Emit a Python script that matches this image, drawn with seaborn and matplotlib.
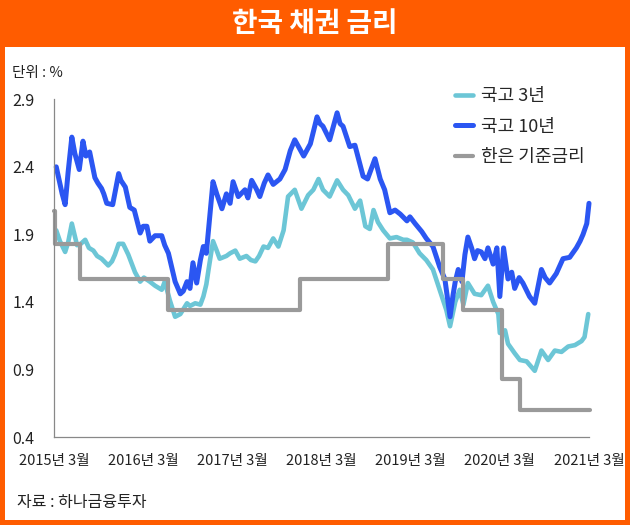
import numpy as np
import pandas as pd
import matplotlib
matplotlib.use("Agg")
import matplotlib.pyplot as plt
from matplotlib.patches import Rectangle
import seaborn as sns

# x = months since 2015년 3월
months_10y = [0.3, 1.1, 1.5, 1.9, 2.4, 2.8, 3.4, 3.9, 4.3, 4.8, 5.5, 5.9, 6.4, 6.7, 7.1, 7.9,
              8.7, 9.0, 9.6, 10.2, 10.8, 11.6, 12.0, 12.5, 12.9, 13.6, 14.5, 14.9, 15.4, 16.3,
              17.0, 17.4, 17.9, 18.3, 18.7, 19.2, 19.7, 20.1, 20.5, 21.4, 21.9, 22.6, 23.2,
              23.7, 24.1, 24.8, 25.7, 26.1, 26.6, 27.2, 27.7, 28.3, 28.8, 29.5, 30.4, 31.1,
              31.8, 32.4, 33.0, 33.6, 34.5, 35.4, 35.8, 36.2, 37.1, 38.1, 38.5, 38.9, 39.8,
              40.5, 41.6, 42.2, 42.8, 43.2, 43.9, 44.5, 45.2, 45.9, 46.6, 47.5, 47.9, 48.6,
              49.5, 50.1, 51.0, 51.9, 52.6, 53.3, 53.7, 54.0, 54.4, 54.9, 55.3, 55.7, 56.2,
              56.6, 57.0, 57.5, 58.0, 58.4, 59.1, 59.6, 60.0, 60.5, 61.1, 61.6, 62.0, 62.6,
              63.1, 64.0, 64.7, 65.6, 66.1, 66.7, 67.6, 68.5, 69.4, 70.3, 70.8, 71.2, 71.7, 72.0]
rate_10y = [2.40, 2.20, 2.12, 2.36, 2.62, 2.50, 2.38, 2.59, 2.48, 2.51, 2.32, 2.28, 2.24, 2.20,
            2.13, 2.12, 2.35, 2.30, 2.25, 2.10, 2.08, 1.91, 1.96, 1.96, 1.85, 1.89, 1.89, 1.82,
            1.76, 1.55, 1.46, 1.48, 1.55, 1.50, 1.69, 1.54, 1.71, 1.81, 1.76, 2.29, 2.20, 2.09,
            2.20, 2.13, 2.29, 2.18, 2.23, 2.17, 2.30, 2.24, 2.18, 2.28, 2.34, 2.27, 2.31, 2.38,
            2.52, 2.60, 2.54, 2.48, 2.57, 2.77, 2.72, 2.70, 2.60, 2.80, 2.72, 2.70, 2.55, 2.56,
            2.33, 2.31, 2.40, 2.46, 2.31, 2.23, 2.06, 2.08, 2.05, 2.00, 2.03, 1.98, 1.92, 1.87,
            1.81, 1.66, 1.57, 1.29, 1.45, 1.55, 1.64, 1.55, 1.75, 1.88, 1.80, 1.72, 1.78, 1.77,
            1.72, 1.80, 1.68, 1.80, 1.44, 1.80, 1.57, 1.62, 1.50, 1.58, 1.54, 1.44, 1.39, 1.64,
            1.58, 1.54, 1.61, 1.72, 1.73, 1.80, 1.85, 1.90, 1.98, 2.13]

months_3y = [0.3, 0.8, 1.5, 1.9, 2.4, 3.1, 3.6, 4.2, 4.7, 5.3, 5.8, 6.4, 7.3, 7.8, 8.2, 8.7,
             9.3, 10.0, 10.9, 11.6, 12.1, 12.9, 13.6, 14.5, 14.9, 15.6, 16.3, 17.0, 17.9, 18.3,
             19.0, 19.7, 20.1, 20.5, 20.8, 21.4, 21.9, 22.3, 23.2, 23.7, 24.4, 25.0, 25.9,
             26.5, 27.1, 27.6, 28.2, 28.8, 29.5, 30.2, 30.9, 31.5, 32.4, 33.3, 34.2, 34.9,
             35.6, 36.2, 37.1, 38.1, 38.9, 39.6, 40.5, 41.2, 41.9, 42.5, 43.0, 43.6, 44.3,
             45.2, 46.1, 47.0, 47.5, 48.3, 49.2, 50.1, 51.0, 51.9, 52.8, 53.3, 54.0, 54.6,
             55.1, 55.7, 56.6, 57.5, 58.4, 59.1, 59.8, 60.0, 60.7, 61.1, 62.0, 62.7, 63.6,
             64.7, 65.6, 66.5, 67.4, 68.3, 69.2, 70.1, 71.0, 71.4, 71.9]
rate_3y = [1.93, 1.85, 1.77, 1.84, 1.98, 1.82, 1.83, 1.86, 1.80, 1.78, 1.74, 1.72, 1.67, 1.70,
           1.75, 1.83, 1.83, 1.75, 1.62, 1.55, 1.58, 1.55, 1.52, 1.49, 1.55, 1.41, 1.29, 1.31,
           1.39, 1.37, 1.39, 1.38, 1.44, 1.53, 1.64, 1.85, 1.78, 1.72, 1.74, 1.76, 1.78, 1.72,
           1.74, 1.71, 1.70, 1.74, 1.81, 1.80, 1.87, 1.81, 1.93, 2.18, 2.23, 2.09, 2.19, 2.23,
           2.31, 2.23, 2.18, 2.30, 2.23, 2.19, 2.09, 2.15, 1.96, 1.94, 2.08, 1.99, 1.93, 1.87,
           1.88, 1.86, 1.86, 1.84, 1.76, 1.71, 1.64, 1.49, 1.34, 1.22, 1.40, 1.49, 1.38, 1.54,
           1.46, 1.45, 1.52, 1.40, 1.31, 1.17, 1.19, 1.09, 1.02, 0.97, 0.96, 0.89, 1.04, 0.97,
           1.04, 1.03, 1.07, 1.08, 1.11, 1.14, 1.31]

months_base = [0.0, 0.2, 3.5, 15.4, 33.1, 45.0, 52.4, 55.0, 60.3, 62.7, 72.1]
rate_base = [2.07, 1.83, 1.57, 1.34, 1.57, 1.83, 1.57, 1.34, 0.83, 0.60, 0.60]

tick_months = [0, 12, 24, 36, 48, 60, 72]
tick_labels = ["2015년 3월", "2016년 3월", "2017년 3월", "2018년 3월",
               "2019년 3월", "2020년 3월", "2021년 3월"]
y_ticks = [0.4, 0.9, 1.4, 1.9, 2.4, 2.9]

sns.set_style("white")
plt.rcParams["font.family"] = ["Noto Sans CJK KR", "DejaVu Sans"]

ORANGE = "#ff5c00"
CYAN = "#6cc6d6"
BLUE = "#2b56f2"
GRAY = "#9a9a9a"

fig = plt.figure(figsize=(6.3, 5.25), dpi=100)
fig.patch.set_facecolor(ORANGE)
fig.add_artist(Rectangle((5 / 630, 5 / 525), 620 / 630, (520 - 47) / 525,
                         transform=fig.transFigure, facecolor="white", edgecolor="none", zorder=0))
fig.text(0.5, 1 - 24 / 525, "한국 채권 금리", color="white", fontsize=20,
         fontweight="bold", ha="center", va="center")

ax = fig.add_axes([54 / 630, 1 - 437 / 525, 535 / 630, (437 - 99.3) / 525])
ax.set_facecolor("none")

df3 = pd.DataFrame({"m": months_3y, "v": rate_3y})
df10 = pd.DataFrame({"m": months_10y, "v": rate_10y})
dfb = pd.DataFrame({"m": months_base, "v": rate_base})

sns.lineplot(data=df3, x="m", y="v", ax=ax, color=CYAN, lw=3.3, estimator=None,
             sort=False, label="국고 3년", clip_on=False)
sns.lineplot(data=df10, x="m", y="v", ax=ax, color=BLUE, lw=3.6, estimator=None,
             sort=False, label="국고 10년", clip_on=False)
sns.lineplot(data=dfb, x="m", y="v", ax=ax, color=GRAY, lw=3.0, estimator=None,
             sort=False, drawstyle="steps-post", label="한은 기준금리", clip_on=False)

ax.set_xlim(0, 72)
ax.set_ylim(0.4, 2.9)
ax.set_xticks(tick_months)
ax.set_xticklabels(tick_labels, fontsize=10.5, color="#222222")
ax.set_yticks(y_ticks)
ax.set_yticklabels([f"{t:.1f}" for t in y_ticks], fontsize=11.5, color="#222222")
ax.set_xlabel("")
ax.set_ylabel("")
for s in ["top", "right"]:
    ax.spines[s].set_visible(False)
for s in ["left", "bottom"]:
    ax.spines[s].set_color("#888888")
    ax.spines[s].set_linewidth(0.9)
ax.tick_params(axis="x", direction="out", length=7, width=0.9, color="#888888", pad=5)
ax.tick_params(axis="y", direction="out", length=6, width=0.9, color="#888888", pad=8)

leg = ax.legend(loc="upper left", bbox_to_anchor=(455 / 630, 1 - 87 / 525),
                bbox_transform=fig.transFigure, frameon=False, fontsize=13,
                handlelength=1.0, handletextpad=0.45, labelspacing=0.7, borderpad=0,
                borderaxespad=0)

fig.text(12 / 630, 1 - 73 / 525, "단위 : %", fontsize=10.5, color="#222222",
         ha="left", va="center")
fig.text(17 / 630, 1 - 502 / 525, "자료 : 하나금융투자", fontsize=11.5, color="#222222",
         ha="left", va="center")

fig.savefig("out.png", dpi=100, facecolor=fig.get_facecolor())
